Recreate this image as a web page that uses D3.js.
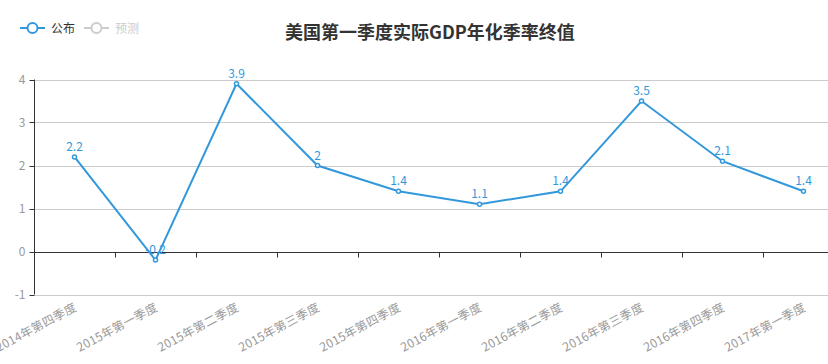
<!DOCTYPE html>
<html><head><meta charset="utf-8">
<script src="https://cdn.jsdelivr.net/npm/d3@7"></script>
<style>body{margin:0;background:#fff;} text{font-family:"Noto Sans CJK SC","Microsoft YaHei",sans-serif;}</style>
</head><body><svg id="c" width="828" height="364"></svg>
<script>
const title = "美国第一季度实际GDP年化季率终值";
const categories = ["2014年第四季度","2015年第一季度","2015年第二季度","2015年第三季度","2015年第四季度","2016年第一季度","2016年第二季度","2016年第三季度","2016年第四季度","2017年第一季度"];
const published = [2.2, -0.2, 3.9, 2, 1.4, 1.1, 1.4, 3.5, 2.1, 1.4];
const yTicks = [-1, 0, 1, 2, 3, 4];
const legendNames = ["公布", "预测"];

const svg = d3.select("#c");
const blue = "#3398DB";
const x = d3.scaleBand().domain(categories).range([34, 844]);
const y = d3.scaleLinear().domain([-1, 4]).range([294.5, 79.5]);

// grid
svg.append("g").selectAll("line").data(yTicks).join("line")
  .attr("x1", 34).attr("x2", 828).attr("y1", d => Math.round(y(d)) + 0.5).attr("y2", d => Math.round(y(d)) + 0.5)
  .attr("stroke", "#ccc").attr("stroke-width", 1);

// y axis
const ya = svg.append("g").attr("transform", "translate(34.5,0)");
ya.append("line").attr("y1", y(4)).attr("y2", y(-1)).attr("stroke", "#333");
ya.selectAll("line.t").data(yTicks).join("line").attr("class", "t")
  .attr("x1", -5).attr("x2", 0).attr("y1", d => Math.round(y(d)) + 0.5).attr("y2", d => Math.round(y(d)) + 0.5).attr("stroke", "#333");
ya.selectAll("text").data(yTicks).join("text")
  .attr("x", -9).attr("y", d => y(d) + 4).attr("text-anchor", "end")
  .attr("font-size", 12).attr("fill", "#999").text(d => d);

// x axis at zero
const y0 = Math.round(y(0)) + 0.5;
svg.append("line").attr("x1", 34).attr("x2", 828).attr("y1", y0).attr("y2", y0).attr("stroke", "#333");
const bounds = categories.map(c => x(c));
svg.append("g").selectAll("line").data(bounds).join("line")
  .attr("x1", d => Math.round(d) + 0.5).attr("x2", d => Math.round(d) + 0.5)
  .attr("y1", y0).attr("y2", y0 + 5).attr("stroke", "#333");

// x labels
svg.append("g").selectAll("text").data(categories).join("text")
  .attr("transform", d => `translate(${x(d) + x.bandwidth() / 2 + 3},${310}) rotate(-28)`)
  .attr("text-anchor", "end").attr("font-size", 12).attr("letter-spacing", 0.3).attr("fill", "#999").text(d => d);

// line
const cx = (d, i) => x(categories[i]) + x.bandwidth() / 2;
svg.append("path").datum(published)
  .attr("d", d3.line().x(cx).y(d => y(d)))
  .attr("fill", "none").attr("stroke", blue).attr("stroke-width", 2);
svg.append("g").selectAll("circle").data(published).join("circle")
  .attr("cx", cx).attr("cy", d => y(d)).attr("r", 2).attr("fill", "#fff").attr("stroke", blue).attr("stroke-width", 1.5);
svg.append("g").selectAll("text").data(published).join("text")
  .attr("x", cx).attr("y", d => y(d) - 6).attr("text-anchor", "middle")
  .attr("font-size", 12).attr("fill", blue).text(d => d);

// title
svg.append("text").attr("x", 430).attr("y", 39).attr("text-anchor", "middle")
  .attr("font-size", 18).attr("font-weight", "bold").attr("fill", "#333").text(title);

// legend
const lg = svg.append("g");
const legColors = [blue, "#ccc"];
const legText = ["#333", "#ccc"];
legendNames.forEach((n, i) => {
  const gx = 20 + i * 64;
  const g = lg.append("g").attr("transform", `translate(${gx},28)`);
  g.append("line").attr("x1", 0).attr("x2", 25).attr("stroke", legColors[i]).attr("stroke-width", 2);
  g.append("circle").attr("cx", 12.5).attr("r", 5).attr("fill", "#fff").attr("stroke", legColors[i]).attr("stroke-width", 2);
  g.append("text").attr("x", 31).attr("y", 4.5).attr("font-size", 12).attr("fill", legText[i]).text(n);
});
</script></body></html>
